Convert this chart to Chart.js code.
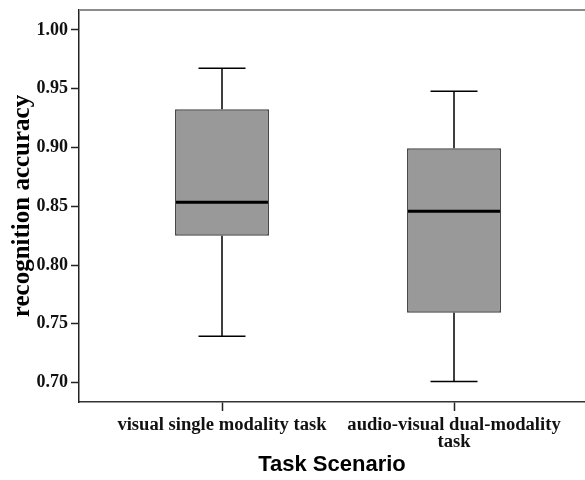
<!DOCTYPE html>
<html>
<head>
<meta charset="utf-8">
<script src="https://cdn.jsdelivr.net/npm/chart.js@4.4.1/dist/chart.umd.min.js"></script>
<style>
  html, body { margin: 0; padding: 0; background: #fff; }
  #wrap { width: 585px; height: 480px; position: relative; }
</style>
</head>
<body>
<div id="wrap"><canvas id="chart"></canvas></div>
<script>
const CATEGORIES = ['visual single modality task', ['audio-visual dual-modality', 'task']];
const WHISKER_LOW = [0.7395, 0.7009];
const Q1 = [0.825, 0.7594];
const MEDIAN = [0.8534, 0.8458];
const Q3 = [0.9325, 0.8993];
const WHISKER_HIGH = [0.9674, 0.9478];
const Y_TICKS = [0.70, 0.75, 0.80, 0.85, 0.90, 0.95, 1.00];
const Y_MIN = 0.6835;
const Y_MAX = 1.017;
const X_MIN = 0.3836;
const X_MAX = 2.5646;

const SERIF = "'Liberation Serif', 'Times New Roman', serif";
const SANS = "'Liberation Sans', Arial, sans-serif";

// whiskers, caps and median line, placed with the chart's own scales
const boxWhiskers = {
  id: 'boxWhiskers',
  afterDatasetsDraw(chart) {
    const { ctx } = chart;
    const y = chart.scales.y;
    const meta = chart.getDatasetMeta(0);
    ctx.save();
    ctx.strokeStyle = '#000';
    meta.data.forEach((bar, i) => {
      const cx = bar.x;
      const half = bar.width / 2;
      const cap = bar.width / 4;
      const yHi = y.getPixelForValue(WHISKER_HIGH[i]);
      const yLo = y.getPixelForValue(WHISKER_LOW[i]);
      const yQ1 = y.getPixelForValue(Q1[i]);
      const yQ3 = y.getPixelForValue(Q3[i]);
      const yMed = y.getPixelForValue(MEDIAN[i]);

      ctx.lineWidth = 1.5;
      ctx.beginPath();
      ctx.moveTo(cx, yQ3); ctx.lineTo(cx, yHi);
      ctx.moveTo(cx - cap, yHi); ctx.lineTo(cx + cap, yHi);
      ctx.moveTo(cx, yQ1); ctx.lineTo(cx, yLo);
      ctx.moveTo(cx - cap, yLo); ctx.lineTo(cx + cap, yLo);
      ctx.stroke();

      ctx.lineWidth = 3;
      ctx.beginPath();
      ctx.moveTo(cx - half + 1, yMed); ctx.lineTo(cx + half - 1, yMed);
      ctx.stroke();
    });
    ctx.restore();
  }
};

// grey top edge of the plot frame
const topFrame = {
  id: 'topFrame',
  afterDraw(chart) {
    const { ctx, chartArea } = chart;
    ctx.save();
    ctx.strokeStyle = '#8c8c8c';
    ctx.lineWidth = 2;
    ctx.beginPath();
    ctx.moveTo(chartArea.left, chartArea.top);
    ctx.lineTo(chartArea.right, chartArea.top);
    ctx.stroke();
    ctx.restore();
  }
};

const ctx = document.getElementById('chart').getContext('2d');
new Chart(ctx, {
  type: 'bar',
  data: {
    datasets: [{
      data: CATEGORIES.map((_, i) => ({ x: i + 1, y: [Q1[i], Q3[i]] })),
      backgroundColor: '#999999',
      borderColor: '#444444',
      borderWidth: 1.5,
      borderSkipped: false,
      barPercentage: 0.405,
      categoryPercentage: 1,
    }],
  },
  options: {
    responsive: true,
    maintainAspectRatio: false,
    animation: false,
    layout: { padding: { top: 10, right: 0, left: 0, bottom: 0 } },
    plugins: { legend: { display: false }, tooltip: { enabled: false } },
    scales: {
      x: {
        type: 'linear',
        min: X_MIN,
        max: X_MAX,
        offset: false,
        afterBuildTicks: (axis) => { axis.ticks = CATEGORIES.map((_, i) => ({ value: i + 1 })); },
        afterFit: (axis) => {
          axis.height = 78;
          axis.paddingLeft = 0;
          axis.paddingRight = 0;
        },
        grid: { offset: false, drawOnChartArea: false, drawTicks: true, tickLength: 9, tickColor: '#222', tickWidth: 1.5 },
        border: { color: '#333', width: 1.5 },
        ticks: {
          callback: (v) => CATEGORIES[v - 1],
          color: '#111',
          font: { family: SERIF, weight: 'bold', size: 18.6, lineHeight: 0.95 },
          padding: 5,
          maxRotation: 0,
          autoSkip: false,
        },
        title: {
          display: true,
          text: 'Task Scenario',
          color: '#000',
          font: { family: SANS, weight: 'bold', size: 22 },
          padding: { top: 0, bottom: 2 },
        },
      },
      y: {
        min: Y_MIN,
        max: Y_MAX,
        afterBuildTicks: (axis) => { axis.ticks = Y_TICKS.map((v) => ({ value: v })); },
        afterFit: (axis) => {
          axis.width = 79;
          axis.paddingTop = 0;
          axis.paddingBottom = 0;
        },
        grid: { drawOnChartArea: false, drawTicks: true, tickLength: 8, tickColor: '#222', tickWidth: 1.5 },
        border: { color: '#222', width: 1.5 },
        ticks: {
          callback: (v) => v.toFixed(2),
          color: '#111',
          font: { family: SERIF, weight: 'bold', size: 18 },
          padding: 3,
        },
        title: {
          display: true,
          text: 'recognition accuracy',
          color: '#000',
          font: { family: SERIF, weight: 'bold', size: 25 },
          padding: { top: 8, bottom: 0 },
        },
      },
    },
  },
  plugins: [boxWhiskers, topFrame],
});
</script>
</body>
</html>
